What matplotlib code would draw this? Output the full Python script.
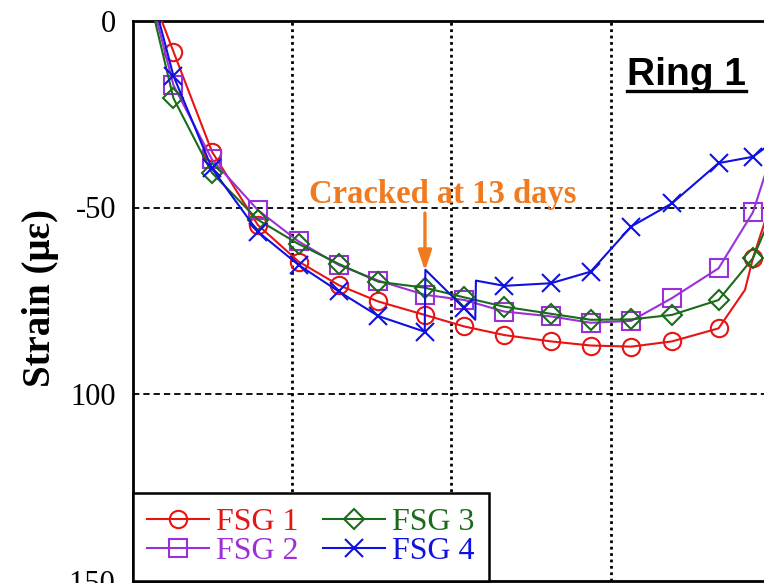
import matplotlib
matplotlib.use("Agg")
import matplotlib.pyplot as plt
from matplotlib.lines import Line2D

# ---------------- data (days, microstrain) ----------------
fsg1_x = [1.28, 1.79, 3.48, 5.50, 7.29, 9.05, 10.79, 12.83, 14.57, 16.33, 18.38, 20.12, 21.90, 23.69, 25.74, 26.90, 27.25, 27.85]
fsg1_y = [0, -8.2, -35.0, -54.7, -64.5, -70.8, -75.2, -78.8, -81.9, -84.2, -85.9, -87.0, -87.3, -85.9, -82.4, -72.1, -63.6, -52.4]
fsg1_marks = [1, 2, 3, 4, 5, 6, 7, 8, 9, 10, 11, 12, 13, 14, 16]

fsg2_x = [1.07, 1.79, 3.48, 5.50, 7.29, 9.05, 10.79, 12.83, 14.57, 16.33, 18.38, 20.12, 21.90, 23.69, 25.74, 27.25, 27.85]
fsg2_y = [0, -17.2, -37.1, -50.7, -59.1, -65.4, -69.6, -73.4, -74.8, -77.9, -79.2, -80.9, -80.4, -74.3, -66.3, -51.3, -39.9]
fsg2_marks = list(range(1, 16))

fsg3_x = [0.98, 1.79, 3.48, 5.50, 7.29, 9.05, 10.79, 12.83, 14.57, 16.33, 18.38, 20.12, 21.90, 23.69, 25.74, 27.25, 27.85]
fsg3_y = [0, -20.7, -40.7, -53.3, -59.8, -65.1, -69.9, -71.5, -74.1, -76.6, -78.5, -80.1, -80.0, -78.8, -74.8, -63.6, -55.1]
fsg3_marks = list(range(1, 16))

fsg4_x = [1.16, 1.79, 3.48, 5.50, 7.29, 9.05, 10.79, 12.83, 12.86, 14.57, 15.05, 15.08, 16.33, 18.38, 20.12, 21.90, 23.69, 25.74, 27.25, 27.85]
fsg4_y = [0, -14.7, -39.5, -56.5, -65.4, -72.5, -79.1, -83.3, -66.7, -77.0, -80.1, -69.6, -71.0, -70.3, -67.2, -55.1, -48.9, -38.1, -36.4, -33.7]
fsg4_marks = [1, 2, 3, 4, 5, 6, 7, 9, 12, 13, 14, 15, 16, 17, 18]

labels = ["FSG 1", "FSG 2", "FSG 3", "FSG 4"]
yticks = [0, -50, -100, -150]
ytick_labels = ["0", "-50", "100", "-150"]
xgrid = [7, 14, 21]
crack_day = 12.84
crack_text = "Cracked at 13 days"
ring_text = "Ring 1"

# ---------------- style ----------------
colors = ["#e61414", "#9b30d9", "#1a6b1a", "#1010e0"]
markers = ["o", "s", "D", "x"]
msizes = [12.5, 12.5, 10.0, 13.0]
orange = "#f07a20"
serif = ["Liberation Serif", "DejaVu Serif"]

fig = plt.figure(figsize=(7.64, 5.83), dpi=100)
W, H = 764, 583
left_px, right_px, top_px, bot_px = 132.7, 770.0, 21.0, 580.5
ax = fig.add_axes([left_px / W, 1 - bot_px / H, (right_px - left_px) / W, (bot_px - top_px) / H])

series = [(fsg1_x, fsg1_y, fsg1_marks), (fsg2_x, fsg2_y, fsg2_marks),
          (fsg3_x, fsg3_y, fsg3_marks), (fsg4_x, fsg4_y, fsg4_marks)]
handles = []
for (xs, ys, mk), c, m, ms, lab in zip(series, colors, markers, msizes, labels):
    h, = ax.plot(xs, ys, color=c, lw=1.5, marker=m, markevery=mk, ms=ms,
                 mfc="none", mec=c, mew=1.5, label=lab, zorder=3)
    handles.append(h)

ax.set_xlim(0, 28)
ax.set_ylim(-150, 0)

# grid
for gx in xgrid:
    ax.axvline(gx, color="black", lw=2.0, ls=(0, (1, 1.3)), zorder=1)
for gy in [-50, -100]:
    ax.axhline(gy, color="black", lw=1.3, ls=(0, (3.5, 2.2)), zorder=1)

ax.set_xticks(xgrid)
ax.set_xticklabels([])
ax.set_yticks(yticks)
ax.set_yticklabels(ytick_labels, fontfamily=serif, fontsize=22)
ax.tick_params(axis="both", length=0, pad=12)
for sp in ax.spines.values():
    sp.set_linewidth(2.0)
    sp.set_color("black")

ax.set_ylabel("Strain (\u03bc\u03b5)", fontfamily=serif, fontweight="bold", fontsize=28)
ax.yaxis.set_label_coords(-0.115, 0.505)

# annotations
ax.text(13.6, -48.8, crack_text, color=orange, fontfamily=serif, fontweight="bold",
        fontsize=23.5, ha="center", va="baseline", zorder=5)
ax.annotate("", xy=(crack_day, -67.0), xytext=(crack_day, -51.5),
            arrowprops=dict(arrowstyle="-|>,head_width=0.4,head_length=1.2",
                            color=orange, lw=2.4, shrinkA=0, shrinkB=0), zorder=5)

rt = ax.text(24.31, -17.2, ring_text, color="black", fontfamily=["Liberation Sans", "DejaVu Sans"],
             fontweight="bold", fontsize=28, ha="center", va="baseline", zorder=5)

leg = ax.legend(handles=handles, ncol=2, loc="lower left", bbox_to_anchor=(0, 0),
                borderaxespad=0, frameon=True, fancybox=False, edgecolor="black",
                prop={"family": serif, "size": 23}, labelcolor="linecolor",
                handlelength=1.95, handletextpad=0.22, columnspacing=0.75,
                labelspacing=0.0, borderpad=0.45)
leg.get_frame().set_linewidth(1.8)
leg.get_frame().set_alpha(1)
leg.set_zorder(6)

# underline for Ring 1
fig.canvas.draw()
bb = rt.get_window_extent(renderer=fig.canvas.get_renderer())
uy = 1 - 90.5 / H
fig.add_artist(Line2D([bb.x0 / W, bb.x1 / W], [uy, uy], color="black", lw=2.4,
                      transform=fig.transFigure))

fig.savefig("out.png", dpi=100)
